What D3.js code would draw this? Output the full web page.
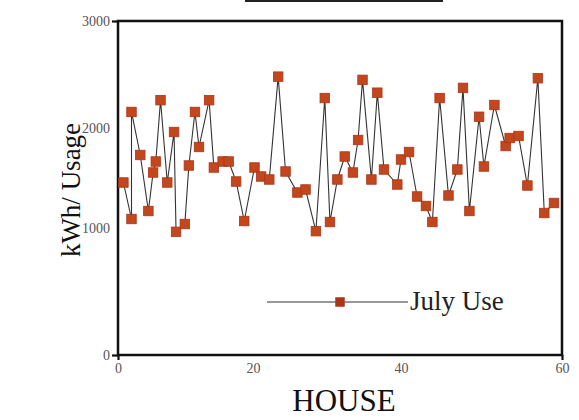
<!DOCTYPE html>
<html>
<head>
<meta charset="utf-8">
<script src="https://cdn.jsdelivr.net/npm/d3@7.9.0/dist/d3.min.js"></script>
<style>
  body { margin: 0; background: #fff; }
  svg { display: block; font-family: "Liberation Serif", "DejaVu Serif", serif; }
</style>
</head>
<body>
<svg id="chart" width="579" height="420"></svg>
<script>
// values
const house = [0.8, 2.0, 2.0, 3.3, 4.5, 5.2, 5.6, 6.3, 7.3, 8.3, 8.6, 9.9, 10.5, 11.4, 12.0,
  13.5, 14.2, 15.5, 16.4, 17.5, 18.7, 20.2, 21.1, 22.2, 23.4, 24.4, 26.0, 27.1, 28.5, 29.7,
  30.4, 31.4, 32.4, 33.5, 34.2, 34.8, 36.0, 36.8, 37.7, 39.5, 40.0, 41.0, 42.0, 43.1, 43.9,
  44.8, 45.9, 47.0, 47.7, 48.5, 49.7, 50.3, 51.6, 53.0, 53.5, 54.6, 55.7, 57.0, 57.8, 59.0];
const julyUse = [1455, 1090, 2150, 1730, 1170, 1555, 1665, 2260, 1455, 1960, 970, 1040, 1625, 2150, 1810,
  2260, 1605, 1665, 1665, 1465, 1070, 1605, 1515, 1485, 2480, 1565, 1355, 1385, 975, 2280,
  1060, 1485, 1715, 1555, 1880, 2450, 1485, 2330, 1585, 1435, 1685, 1760, 1315, 1220, 1060,
  2280, 1325, 1585, 2375, 1170, 2105, 1615, 2215, 1820, 1900, 1920, 1425, 2465, 1150, 1250];

const xTicks = [0, 20, 40, 60];
const yTicks = [0, 1000, 2000, 3000];
const seriesName = 'July Use';
const xTitle = 'HOUSE';
const yTitle = 'kWh/ Usage';

const svg = d3.select('#chart');

// the scan is not evenly spaced, so each labelled tick gets its own stop
let x = d3.scaleLinear().domain(xTicks).range([118, 253, 401, 562]);
let y = d3.scaleLinear().domain(yTicks).range([355, 228, 128, 21]);

// cut off title underline at the top
svg.append('line')
  .attr('x1', 245).attr('x2', 443)
  .attr('y1', 1).attr('y2', 1)
  .attr('stroke', '#222').attr('stroke-width', 2);

// tick labels
let yAxis = svg.append('g')
  .attr('transform', `translate(${x(0)},0)`)
  .call(d3.axisLeft(y).tickValues(yTicks).tickSize(0).tickPadding(8).tickFormat(d3.format('d')));
let xAxis = svg.append('g')
  .attr('transform', `translate(0,${y(0)})`)
  .call(d3.axisBottom(x).tickValues(xTicks).tickSize(0).tickPadding(8));

[yAxis, xAxis].forEach(g => {
  g.select('.domain').remove();
  g.selectAll('text')
    .attr('font-family', '"Liberation Serif", serif')
    .attr('font-size', 14)
    .attr('fill', '#555');
});

// little stubs at the ends of the axes
svg.append('g')
  .attr('transform', `translate(${x(0)},0)`)
  .call(d3.axisLeft(y).tickValues([0, 3000]).tickSize(6).tickFormat(''))
  .call(g => g.select('.domain').remove())
  .selectAll('line').attr('stroke', '#111').attr('stroke-width', 2.2);
svg.append('g')
  .attr('transform', `translate(0,${y(0)})`)
  .call(d3.axisBottom(x).tickValues([0, 60]).tickSize(5).tickFormat(''))
  .call(g => g.select('.domain').remove())
  .selectAll('line').attr('stroke', '#111').attr('stroke-width', 2.2);

// plot frame
svg.append('rect')
  .attr('x', x(0)).attr('y', y(3000))
  .attr('width', x(60) - x(0)).attr('height', y(0) - y(3000))
  .attr('fill', 'none').attr('stroke', '#111').attr('stroke-width', 2.5);

let line = d3.line()
  .x((d, i) => x(house[i]))
  .y(d => y(d));

svg.append('path')
  .datum(julyUse)
  .attr('d', line)
  .attr('fill', 'none')
  .attr('stroke', '#333')
  .attr('stroke-width', 1.1);

const size = 9.5;
svg.selectAll('.pt')
  .data(julyUse)
  .join('rect')
  .attr('class', 'pt')
  .attr('x', (d, i) => x(house[i]) - size / 2)
  .attr('y', d => y(d) - size / 2)
  .attr('width', size).attr('height', size)
  .attr('fill', '#c4461c')
  .attr('stroke', '#a8381a')
  .attr('stroke-width', 0.8);

// legend
let legend = svg.append('g');
legend.append('line')
  .attr('x1', 267).attr('x2', 408)
  .attr('y1', 302).attr('y2', 302)
  .attr('stroke', '#333').attr('stroke-width', 1.2);
legend.append('rect')
  .attr('x', 340 - size / 2).attr('y', 302 - size / 2)
  .attr('width', size).attr('height', size)
  .attr('fill', '#a8361a');
legend.append('text')
  .attr('x', 410).attr('y', 310)
  .attr('font-size', 27)
  .attr('fill', '#222')
  .text(seriesName);

// axis titles
svg.append('text')
  .attr('x', 344).attr('y', 411)
  .attr('text-anchor', 'middle')
  .attr('font-size', 31)
  .attr('fill', '#111')
  .text(xTitle);

svg.append('text')
  .attr('transform', 'translate(80,190) rotate(-90)')
  .attr('text-anchor', 'middle')
  .attr('font-size', 27)
  .attr('fill', '#111')
  .text(yTitle);
</script>
</body>
</html>
